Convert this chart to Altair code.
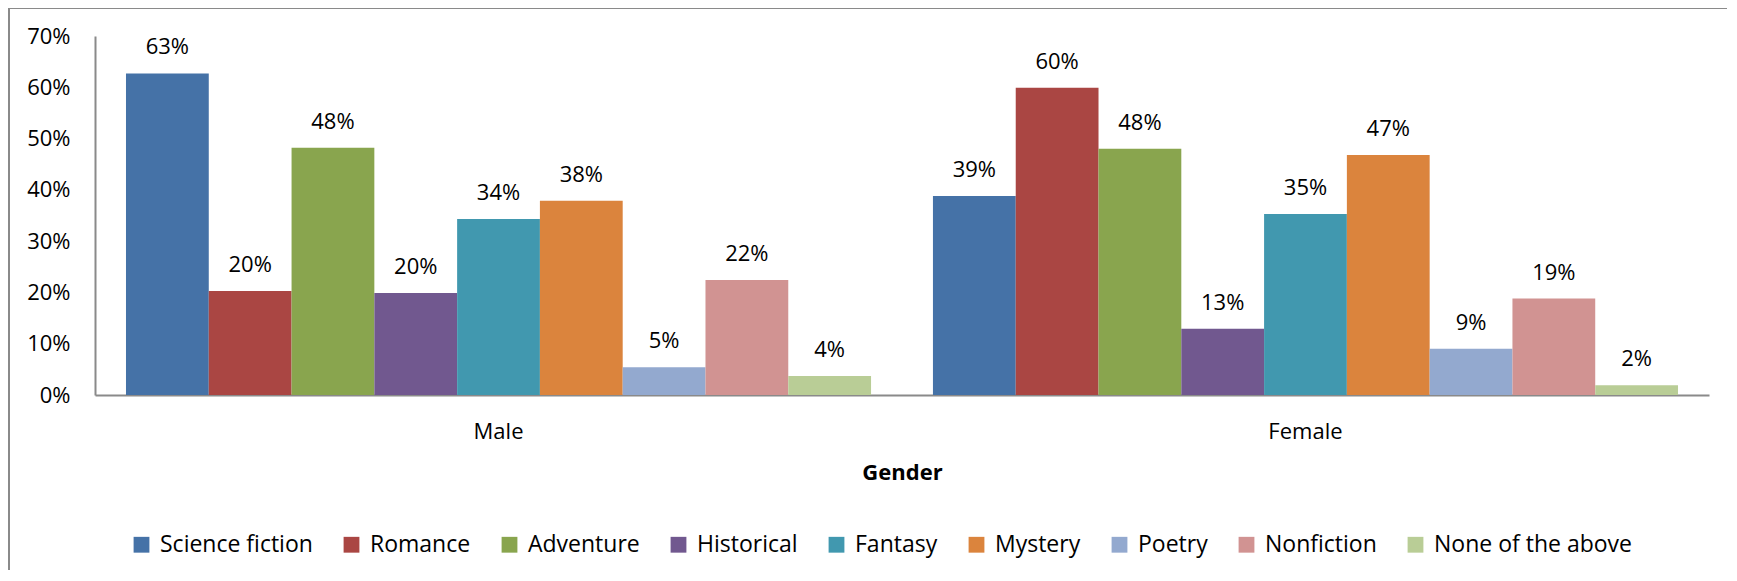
import altair as alt
import pandas as pd

genders = ["Male", "Female"]
genres = ["Science fiction", "Romance", "Adventure", "Historical", "Fantasy",
          "Mystery", "Poetry", "Nonfiction", "None of the above"]
male = [0.627, 0.203, 0.482, 0.199, 0.343, 0.379, 0.054, 0.224, 0.037]
female = [0.388, 0.599, 0.480, 0.129, 0.353, 0.468, 0.090, 0.188, 0.019]
colors = ["#4572A7", "#AA4643", "#89A54E", "#71588F", "#4198AF",
          "#DB843D", "#93A9CF", "#D19392", "#B9CD96"]

rows = []
for g, vals in zip(genders, [male, female]):
    for genre, v in zip(genres, vals):
        rows.append({"Gender": g, "Genre": genre, "Value": v})
df = pd.DataFrame(rows)

FONT = "Open Sans"
AXIS_COLOR = "#8A8A8A"

base = alt.Chart(df).encode(
    x=alt.X("Gender:N", sort=genders,
            scale=alt.Scale(paddingInner=0.0767, paddingOuter=0.0384),
            axis=alt.Axis(title="Gender", labelAngle=0, ticks=False,
                          labelFont=FONT, labelFontSize=22, labelColor="#000000",
                          labelBaseline="alphabetic", labelPadding=43,
                          titleFont=FONT, titleFontSize=22, titleFontWeight="bold",
                          titleColor="#000000", titleBaseline="alphabetic", titleY=84,
                          domainColor=AXIS_COLOR, domainWidth=2)),
    xOffset=alt.XOffset("Genre:N", sort=genres,
                        scale=alt.Scale(paddingInner=0, paddingOuter=0)),
    y=alt.Y("Value:Q",
            scale=alt.Scale(domain=[0, 0.7], nice=False),
            axis=alt.Axis(title=None, values=[0, 0.1, 0.2, 0.3, 0.4, 0.5, 0.6, 0.7],
                          format=".0%", ticks=False, grid=False,
                          labelFont=FONT, labelFontSize=22, labelColor="#000000",
                          labelPadding=25, domainColor=AXIS_COLOR, domainWidth=2)),
)

bars = base.mark_bar().encode(
    color=alt.Color("Genre:N", sort=genres,
                    scale=alt.Scale(domain=genres, range=colors),
                    legend=alt.Legend(title=None, orient="none", legendX=35, legendY=497,
                                      direction="horizontal", symbolType="square",
                                      symbolSize=250, symbolStrokeWidth=0,
                                      labelFont=FONT, labelFontSize=23, labelLimit=0,
                                      labelColor="#000000", labelOffset=7,
                                      columnPadding=27, padding=0))
)

labels = base.mark_text(baseline="alphabetic", dy=-19, font=FONT, fontSize=22,
                        color="#000000").encode(
    text=alt.Text("Value:Q", format=".0%")
)

one = pd.DataFrame({"a": [0]})
top_border = alt.Chart(one).mark_rule(color=AXIS_COLOR, strokeWidth=2).encode(
    x=alt.value(-86), x2=alt.value(1800), y=alt.value(-28))
left_border = alt.Chart(one).mark_rule(color=AXIS_COLOR, strokeWidth=2).encode(
    x=alt.value(-86), y=alt.value(-28), y2=alt.value(700))

chart = alt.layer(bars, labels, top_border, left_border).properties(
    width=1614, height=359,
    autosize=alt.AutoSizeParams(type="none"),
    padding={"left": 87, "top": 28, "right": 18, "bottom": 175},
).configure_view(stroke=None)

chart.save("out.html", embed_options={"renderer": "svg", "actions": False})
